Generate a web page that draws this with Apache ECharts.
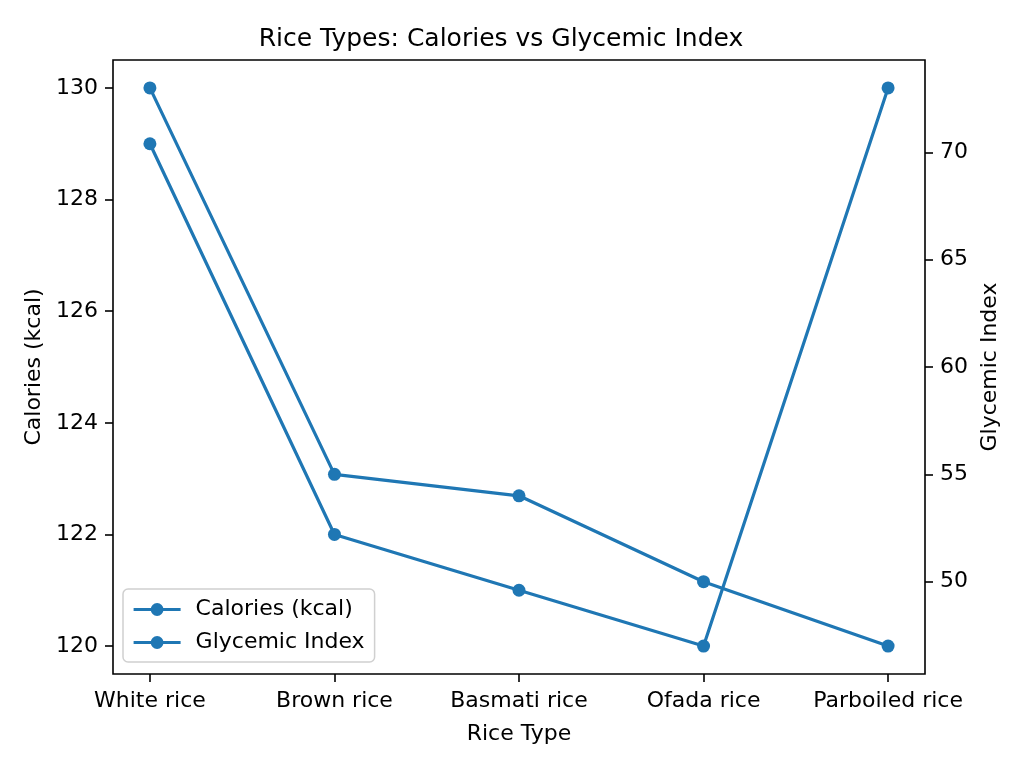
<!DOCTYPE html>
<html>
<head>
<meta charset="utf-8">
<script src="https://cdn.jsdelivr.net/npm/echarts@6/dist/echarts.min.js"></script>
<style>html,body{margin:0;padding:0;background:#fff}#c{width:1024px;height:768px}</style>
</head>
<body>
<div id="c"></div>
<script>
const categories = ['White rice', 'Brown rice', 'Basmati rice', 'Ofada rice', 'Parboiled rice'];
const calories = [129, 122, 121, 120, 130];
const glycemic = [73, 55, 54, 50, 47];
const leftTicks = [120, 122, 124, 126, 128, 130];
const rightTicks = [50, 55, 60, 65, 70];
const xTicks = [0, 1, 2, 3, 4];

const FONT = 'DejaVu Sans';
const FS = 22;
const BLUE = '#1f77b4';
const chart = echarts.init(document.getElementById('c'));

function pairs(arr) { return arr.map((v, i) => [i, v]); }

const tickStyle = { color: '#000', width: 1.6 };

chart.setOption({
  animation: false,
  backgroundColor: '#fff',
  textStyle: { fontFamily: FONT, color: '#000' },
  title: {
    text: 'Rice Types: Calories vs Glycemic Index',
    left: 496, top: 22, textAlign: 'center',
    textStyle: { fontFamily: FONT, fontSize: 25, fontWeight: 'normal', color: '#000' }
  },
  grid: {
    left: 113, right: 99, top: 60, bottom: 94,
    show: true, borderColor: '#000', borderWidth: 1.6, backgroundColor: 'transparent'
  },
  legend: {
    orient: 'vertical', left: 123, top: 589,
    padding: [9, 10, 8, 9],
    borderColor: '#d0d0d0', borderWidth: 1.5, borderRadius: 5,
    backgroundColor: 'rgba(255,255,255,0.8)',
    itemWidth: 47, itemHeight: 16, itemGap: 10,
    lineStyle: { width: 3.2 },
    itemStyle: { color: BLUE },
    textStyle: { fontFamily: FONT, fontSize: FS, color: '#000', lineHeight: 23, padding: [0, 0, 0, 10] },
    data: ['Calories (kcal)', 'Glycemic Index']
  },
  xAxis: {
    type: 'value', min: -0.2, max: 4.2,
    name: 'Rice Type', nameLocation: 'middle', nameGap: 49,
    nameTextStyle: { fontFamily: FONT, fontSize: FS, color: '#000' },
    axisLine: { show: false, onZero: false },
    splitLine: { show: false },
    axisTick: { show: true, length: 8, lineStyle: tickStyle, customValues: xTicks },
    axisLabel: {
      fontFamily: FONT, fontSize: FS, color: '#000', margin: 16,
      customValues: xTicks,
      formatter: v => categories[Math.round(v)]
    }
  },
  yAxis: [
    {
      type: 'value', min: 119.5, max: 130.5, position: 'left',
      name: 'Calories (kcal)', nameLocation: 'middle', nameGap: 67, nameRotate: 90,
      nameTextStyle: { fontFamily: FONT, fontSize: FS, color: '#000' },
      axisLine: { show: false, onZero: false },
      splitLine: { show: false },
      axisTick: { show: true, length: 8, lineStyle: tickStyle, customValues: leftTicks },
      axisLabel: { fontFamily: FONT, fontSize: FS, color: '#000', margin: 15, customValues: leftTicks }
    },
    {
      type: 'value', min: 45.7, max: 74.3, position: 'right',
      name: 'Glycemic Index', nameLocation: 'middle', nameGap: 53, nameRotate: 90,
      nameTextStyle: { fontFamily: FONT, fontSize: FS, color: '#000' },
      axisLine: { show: false, onZero: false },
      splitLine: { show: false },
      axisTick: { show: true, length: 8, lineStyle: tickStyle, customValues: rightTicks },
      axisLabel: { fontFamily: FONT, fontSize: FS, color: '#000', margin: 15, customValues: rightTicks }
    }
  ],
  series: [
    {
      name: 'Calories (kcal)', type: 'line', yAxisIndex: 0,
      data: pairs(calories),
      symbol: 'circle', symbolSize: 13, showAllSymbol: true,
      itemStyle: { color: BLUE }, lineStyle: { color: BLUE, width: 3.2 }
    },
    {
      name: 'Glycemic Index', type: 'line', yAxisIndex: 1,
      data: pairs(glycemic),
      symbol: 'circle', symbolSize: 13, showAllSymbol: true,
      itemStyle: { color: BLUE }, lineStyle: { color: BLUE, width: 3.2 }
    }
  ]
});
</script>
</body>
</html>
